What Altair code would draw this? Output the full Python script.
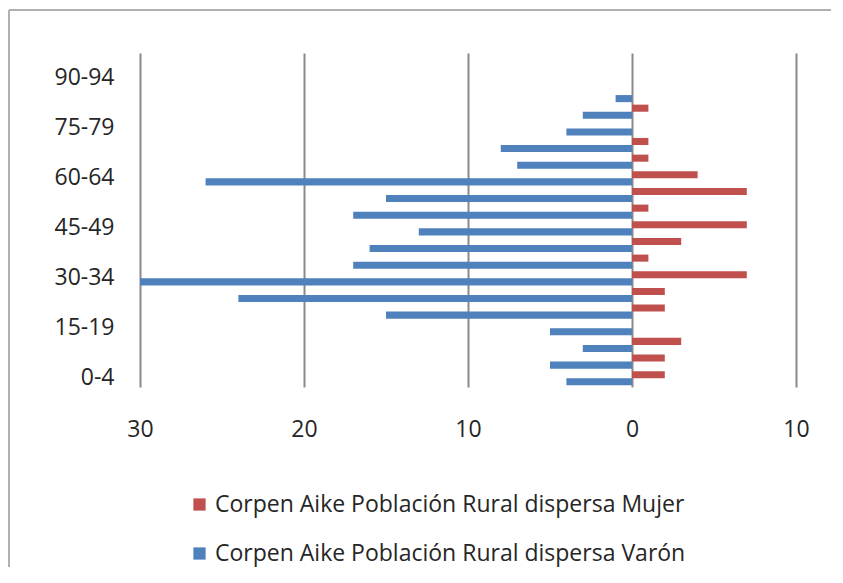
import altair as alt
import pandas as pd

ages = ["0-4", "5-9", "10-14", "15-19", "20-24", "25-29", "30-34", "35-39", "40-44",
        "45-49", "50-54", "55-59", "60-64", "65-69", "70-74", "75-79", "80-84",
        "85-89", "90-94", "95-99"]
varon = [4, 5, 3, 5, 15, 24, 30, 17, 16, 13, 17, 15, 26, 7, 8, 4, 3, 1, 0, 0]
mujer = [2, 2, 3, 0, 2, 2, 7, 1, 3, 7, 1, 7, 4, 1, 1, 0, 1, 0, 0, 0]
series = ["Corpen Aike Población Rural dispersa Mujer",
          "Corpen Aike Población Rural dispersa Varón"]
colors = ["#C0504D", "#4F81BD"]
x_ticks = [-30, -20, -10, 0, 10]
y_labels = ["0-4", "15-19", "30-34", "45-49", "60-64", "75-79", "90-94"]

rows = []
for a, m, v in zip(ages, mujer, varon):
    rows.append({"age": a, "serie": series[0], "value": m})
    rows.append({"age": a, "serie": series[1], "value": -v})
df = pd.DataFrame(rows)

FONT = "Open Sans"
TXT = "#262626"

bars = alt.Chart(df).mark_bar().encode(
    x=alt.X("value:Q",
            scale=alt.Scale(domain=[-30, 10], nice=False, zero=False),
            axis=alt.Axis(values=x_ticks, labelExpr="abs(datum.value)", title=None,
                          grid=True, gridColor="#8a8a8a", gridWidth=2,
                          domain=False, ticks=False, labelPadding=31,
                          labelFlush=False, labelOverlap=False,
                          labelFontSize=23, labelFont=FONT, labelColor=TXT)),
    y=alt.Y("age:N", sort=list(reversed(ages)),
            scale=alt.Scale(paddingInner=0.15, paddingOuter=0.1),
            axis=alt.Axis(values=y_labels, title=None, domain=False, ticks=False,
                          labelPadding=26, labelFontSize=23, labelFont=FONT,
                          labelColor=TXT)),
    yOffset=alt.YOffset("serie:N", sort=series),
    color=alt.Color("serie:N", sort=series,
                    scale=alt.Scale(domain=series, range=colors),
                    legend=alt.Legend(title=None, orient="none", legendX=48,
                                      legendY=440, direction="vertical",
                                      symbolType="square", symbolSize=150,
                                      symbolStrokeWidth=0, rowPadding=25,
                                      labelFontSize=23, labelFont=FONT,
                                      labelColor=TXT, labelOffset=4,
                                      padding=0, labelLimit=700)),
)

border_top = alt.Chart(df).mark_rule(color="#b0b0b0", strokeWidth=2).encode(
    x=alt.value(-131), x2=alt.value(700), y=alt.value(-43))
border_left = alt.Chart(df).mark_rule(color="#b0b0b0", strokeWidth=2).encode(
    x=alt.value(-131), y=alt.value(-43), y2=alt.value(540))

chart = alt.layer(border_top, border_left, bars).properties(
    width=656, height=334,
    autosize=alt.AutoSizeParams(type="none"),
    padding={"left": 132, "top": 45, "right": 35, "bottom": 180},
).configure_view(stroke=None)

chart.save("out.html", embed_options={"renderer": "svg", "actions": False})
